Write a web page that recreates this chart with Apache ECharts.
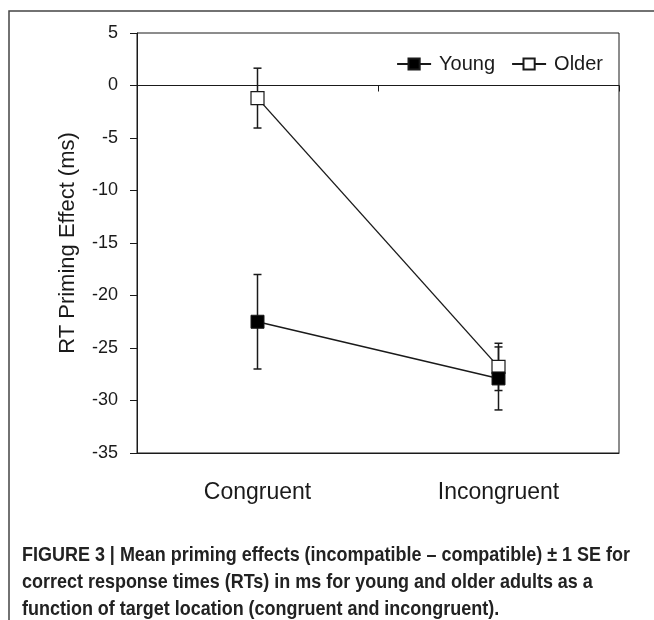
<!DOCTYPE html>
<html>
<head>
<meta charset="utf-8">
<script src="https://cdn.jsdelivr.net/npm/echarts@6/dist/echarts.min.js"></script>
<style>
  html, body { margin: 0; padding: 0; background: #fff; }
  #chart { width: 654px; height: 620px; }
</style>
</head>
<body>
<div id="chart"></div>
<script>
// data
const categories = ['Congruent', 'Incongruent']
const youngMean = [-22.5, -27.9]
const youngSE = [4.5, 3.0]
const olderMean = [-1.2, -26.8]
const olderSE = [2.85, 2.25]
const captionLines = [
  'FIGURE 3 | Mean priming effects (incompatible \u2013 compatible) \u00b1 1 SE for',
  'correct response times (RTs) in ms for young and older adults as a',
  'function of target location (congruent and incongruent).'
]

const ink = '#1a1a1a'
const font = '"Liberation Sans", Arial, sans-serif'
const captionFont = 'bold 21px "Liberation Sans", Arial, sans-serif'

// squeeze the caption so it looks like the condensed face of the original
const ctx = document.createElement('canvas').getContext('2d')
ctx.font = captionFont
const captionScale = 608 / ctx.measureText(captionLines[0]).width

function errorData(mean, se) {
  return mean.map((m, i) => [i, m - se[i], m + se[i]])
}

function renderError(params, api) {
  const lo = api.coord([api.value(0), api.value(1)])
  const hi = api.coord([api.value(0), api.value(2)])
  const cap = 4
  const style = { stroke: ink, lineWidth: 1.5 }
  return {
    type: 'group',
    children: [
      { type: 'line', shape: { x1: hi[0], y1: hi[1], x2: lo[0], y2: lo[1] }, style: style },
      { type: 'line', shape: { x1: hi[0] - cap, y1: hi[1], x2: hi[0] + cap, y2: hi[1] }, style: style },
      { type: 'line', shape: { x1: lo[0] - cap, y1: lo[1], x2: lo[0] + cap, y2: lo[1] }, style: style }
    ]
  }
}

const chart = echarts.init(document.getElementById('chart'))
chart.setOption({
  animation: false,
  grid: {
    left: 137,
    right: 35,
    top: 33,
    bottom: 167,
    show: true,
    borderColor: ink,
    borderWidth: 1
  },
  legend: {
    data: ['Young', 'Older'],
    right: 46,
    top: 49,
    itemWidth: 34,
    itemHeight: 14,
    itemGap: 16,
    textStyle: { fontFamily: font, fontSize: 20, color: ink, padding: [0, 0, 0, 3] }
  },
  xAxis: [{
    type: 'category',
    data: categories,
    axisLine: { onZero: false, lineStyle: { color: ink } },
    axisTick: { show: false },
    axisLabel: { margin: 28, fontFamily: font, fontSize: 23, color: ink }
  }, {
    type: 'category',
    data: categories,
    position: 'bottom',
    axisLine: { onZero: true, lineStyle: { color: ink, width: 1.2 } },
    axisTick: { show: true, length: 6, lineStyle: { color: ink } },
    axisLabel: { show: false },
    splitLine: { show: false }
  }],
  yAxis: {
    type: 'value',
    min: -35,
    max: 5,
    interval: 5,
    name: 'RT Priming Effect (ms)',
    nameLocation: 'middle',
    nameGap: 58,
    nameTextStyle: { fontFamily: font, fontSize: 22, color: ink },
    axisLine: { show: true, onZero: false, lineStyle: { color: ink } },
    axisTick: { show: true, length: 7, lineStyle: { color: ink } },
    axisLabel: { margin: 19, fontFamily: font, fontSize: 18, color: ink },
    splitLine: { show: false }
  },
  series: [{
    type: 'custom',
    renderItem: renderError,
    data: errorData(olderMean, olderSE),
    z: 1
  }, {
    type: 'custom',
    renderItem: renderError,
    data: errorData(youngMean, youngSE),
    z: 1
  }, {
    name: 'Older',
    type: 'line',
    data: olderMean,
    symbol: 'rect',
    symbolSize: 13,
    lineStyle: { color: ink, width: 1.4 },
    itemStyle: { color: '#fff', borderColor: ink, borderWidth: 1.2 },
    z: 3
  }, {
    name: 'Young',
    type: 'line',
    data: youngMean,
    symbol: 'rect',
    symbolSize: 13,
    lineStyle: { color: ink, width: 1.4 },
    itemStyle: { color: '#000', borderColor: ink, borderWidth: 1 },
    z: 4
  }],
  graphic: [{
    type: 'rect',
    shape: { x: 9, y: 11, width: 700, height: 700 },
    style: { fill: 'none', stroke: '#444', lineWidth: 1.5 },
    silent: true
  }].concat(captionLines.map((t, i) => ({
    type: 'text',
    x: 22,
    y: 555 + i * 27,
    scaleX: captionScale,
    style: {
      text: t,
      fill: '#222',
      font: captionFont,
      verticalAlign: 'middle'
    }
  })))
})
</script>
</body>
</html>
